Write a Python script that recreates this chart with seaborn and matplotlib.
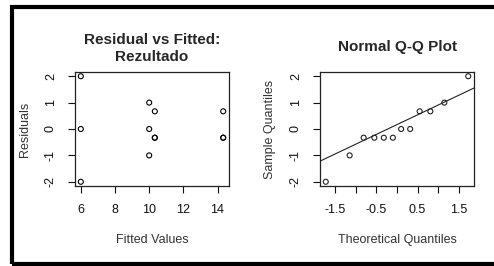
import numpy as np
import matplotlib
matplotlib.use("Agg")
import matplotlib.pyplot as plt
import seaborn as sns
from matplotlib.patches import Rectangle

# residuals vs fitted
fitted = [6.0, 6.0, 6.0, 10.0, 10.0, 10.0, 10.33, 10.33, 10.33, 14.33, 14.33, 14.33]
residuals = [2.0, 0.0, -2.0, 1.0, 0.0, -1.0, 0.67, -0.33, -0.33, 0.67, -0.33, -0.33]

# normal Q-Q
theo_q = [-1.73, -1.15, -0.81, -0.55, -0.32, -0.10, 0.10, 0.32, 0.55, 0.81, 1.15, 1.73]
sample_q = [-2.0, -1.0, -0.33, -0.33, -0.33, -0.33, 0.0, 0.0, 0.67, 0.67, 1.0, 2.0]
qq_intercept = 0.167
qq_slope = 0.741

x_ticks_left = [6, 8, 10, 12, 14]
x_ticks_right = [-1.5, -1.0, -0.5, 0.0, 0.5, 1.0, 1.5]
x_labels_right = ["-1.5", "", "-0.5", "", "0.5", "", "1.5"]
y_ticks = [-2, -1, 0, 1, 2]

sns.set_style("ticks")
plt.rcParams["font.family"] = ["Liberation Sans", "DejaVu Sans"]

fig = plt.figure(figsize=(4.94, 2.66), dpi=100)
ax1 = fig.add_axes([75 / 494, 1 - 186 / 266, 154 / 494, 114 / 266])
ax2 = fig.add_axes([320 / 494, 1 - 186 / 266, 154 / 494, 114 / 266])

# outer frame
fig.patches.append(Rectangle((12 / 494, 2.5 / 266), 1.1, 1 - 9.5 / 266,
                             transform=fig.transFigure, fill=False,
                             edgecolor="black", linewidth=3, clip_on=False))

sns.scatterplot(x=fitted, y=residuals, ax=ax1, marker="o", s=13,
                facecolor="none", edgecolor="black", linewidth=0.8)
sns.scatterplot(x=theo_q, y=sample_q, ax=ax2, marker="o", s=13,
                facecolor="none", edgecolor="#222222", linewidth=0.8)
ax2.axline((0, qq_intercept), slope=qq_slope, color="#222222", linewidth=0.8)

ax1.set_xlim(5.66, 14.67)
ax1.set_xticks(x_ticks_left)
ax2.set_xlim(-1.87, 1.87)
ax2.set_xticks(x_ticks_right)
ax2.set_xticklabels(x_labels_right)

for ax in (ax1, ax2):
    ax.set_ylim(-2.16, 2.16)
    ax.set_yticks(y_ticks)
    ax.set_yticklabels([str(v) for v in y_ticks], rotation=90, va="center")
    ax.tick_params(axis="both", length=5, width=0.8, labelsize=9,
                   colors="#111111", pad=8)
    for sp in ax.spines.values():
        sp.set_visible(True)
        sp.set_linewidth(0.9)
        sp.set_color("#222222")

ax1.set_title("Residual vs Fitted:\nRezultado", fontsize=11, fontweight="bold",
              pad=8, linespacing=1.24)
ax2.set_title("Normal Q-Q Plot", fontsize=11, fontweight="bold", pad=15)
ax1.set_xlabel("Fitted Values", fontsize=9, color="#333333", labelpad=13)
ax1.set_ylabel("Residuals", fontsize=9, color="#333333", labelpad=10)
ax2.set_xlabel("Theoretical Quantiles", fontsize=9, color="#333333", labelpad=13)
ax2.set_ylabel("Sample Quantiles", fontsize=9, color="#333333", labelpad=10)

fig.savefig("out.png", dpi=100)
